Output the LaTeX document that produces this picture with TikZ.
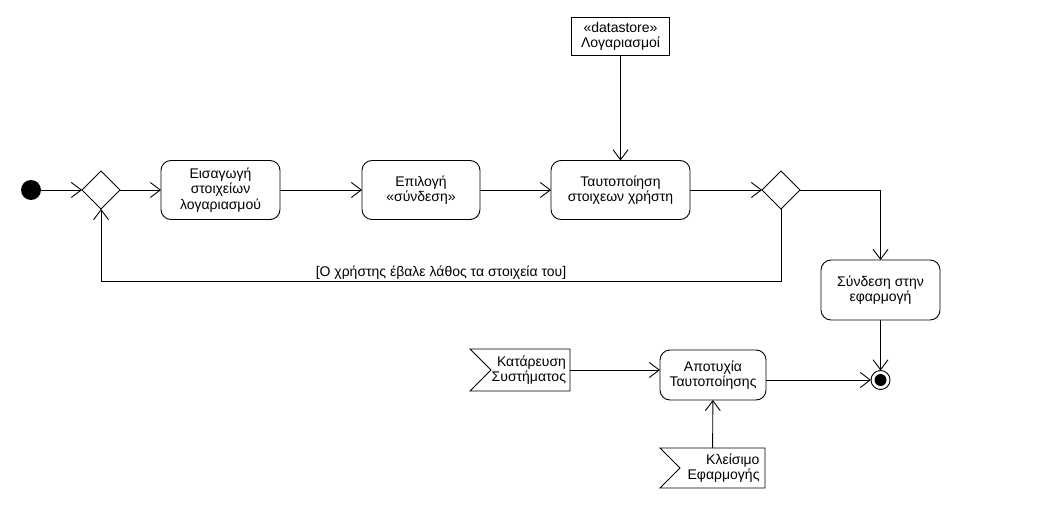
\documentclass[tikz,border=0pt]{standalone}
\usepackage{fontspec}
\setmainfont{Liberation Sans}
\usepackage{tikz}
\usetikzlibrary{shapes.geometric, positioning, arrows.meta, calc}
\tikzset{
  uml/.style = {align=center, inner sep=0pt, outer sep=0pt, text centered, font=\fontsize{14}{15.5}\selectfont, line width=0.9pt},
  action/.style = {uml, rectangle, draw=black, rounded corners=10pt, minimum width=119pt, minimum height=59pt},
  store/.style = {uml, rectangle, draw=black, minimum width=98pt, minimum height=38pt},
  decision/.style = {uml, diamond, draw=black, aspect=1, minimum size=38pt},
  signal in/.style = {uml, rectangle, minimum width=100pt, minimum height=42pt, text width=92pt, align=right},
  start/.style = {circle, fill=black, minimum size=20pt, inner sep=0pt, outer sep=0pt},
  finish/.style = {circle, draw=black, line width=0.9pt, minimum size=19pt, inner sep=0pt, outer sep=0pt,
    path picture={\fill[black] (path picture bounding box.center) circle (6pt);}},
  flow/.style = {line width=0.9pt, -{Straight Barb[length=10pt, width=15pt]}},
  notch/.style = {line width=0.9pt},
}

\begin{document}
\begin{tikzpicture}[x=1pt, y=-1pt]
\useasboundingbox (0,0) rectangle (1040,510);
\node [start] (init) at (31,190) {};
\node [decision, right=41pt of init] (d1) {};
\node [action, right=41pt of d1] (input) {Εισαγωγή\\στοιχείων\\λογαριασμού};
\node [action, right=82pt of input, minimum width=118pt] (login) {Επιλογή\\«σύνδεση»};
\node [action, right=71pt of login, minimum width=139pt] (auth) {Ταυτοποίηση\\στοιχεων χρήστη};
\node [decision, right=72pt of auth] (d2) {};
\node [store, above=105pt of auth] (accounts) {«datastore»\\Λογαριασμοί};
\node [action, minimum height=60pt] (connect) at (880.5,290) {Σύνδεση στην\\εφαρμογή};
\node [finish] (final) at (880.5,380) {};
\node [action, minimum width=106pt, minimum height=50pt] (fail) at (713,375) {Αποτυχία\\Ταυτοποίησης};
\node [signal in] (crash) at (520,370) {Κατάρευση\\Συστήματος};
\node [signal in, minimum width=105pt, minimum height=40pt, text width=94pt] (close) at (712.5,468) {Κλείσιμο\\Εφαρμογής};

% signal shapes
\draw [notch] (crash.north west) -- (crash.north east) -- (crash.south east) -- (crash.south west) -- ($(crash.west)+(21,0)$) -- cycle;
\draw [notch] (close.north west) -- (close.north east) -- (close.south east) -- (close.south west) -- ($(close.west)+(20,0)$) -- cycle;

\draw [flow] (init) -- (d1.west);
\draw [flow] (d1.east) -- (input);
\draw [flow] (input) -- (login);
\draw [flow] (login) -- (auth);
\draw [flow] (accounts) -- (auth);
\draw [flow] (auth) -- (d2.west);
\draw [flow] (d2.east) -| (connect.north);
\draw [flow] (d2.south) -- ++(0,72) -| node [pos=0.25, above=2pt, uml] {[Ο χρήστης έβαλε λάθος τα στοιχεία του]} (d1.south);
\draw [flow] (connect) -- (final);
\draw [flow] (crash.east) -- (crash.east -| fail.west);
\draw [flow] (close) -- (fail);
\draw [flow] (fail.east |- final) -- (final);
\end{tikzpicture}
\end{document}
